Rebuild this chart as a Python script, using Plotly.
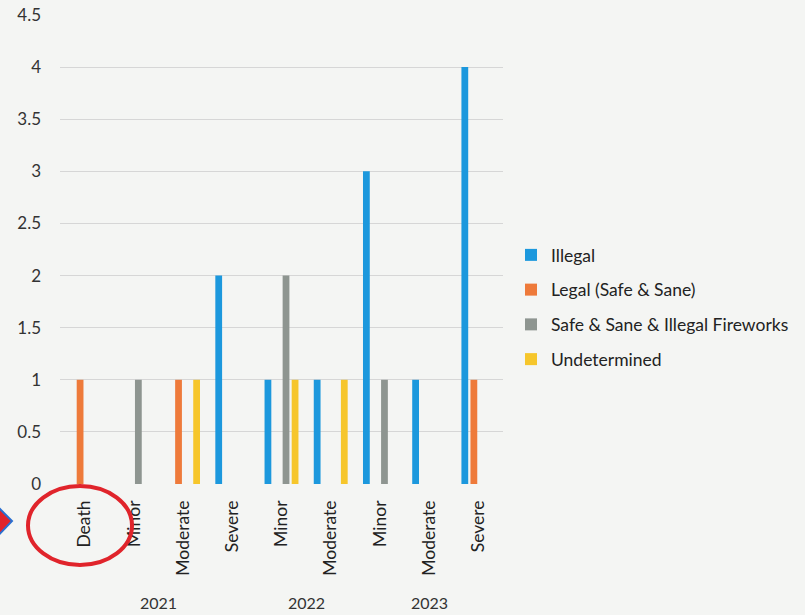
import plotly.graph_objects as go

categories = ["Death", "Minor", "Moderate", "Severe", "Minor", "Moderate", "Minor", "Moderate", "Severe"]
years = ["2021", "2022", "2023"]
year_groups = [[0, 1, 2, 3], [4, 5], [6, 7, 8]]

illegal = [0, 0, 0, 2, 1, 1, 3, 1, 4]
legal = [1, 0, 1, 0, 0, 0, 0, 0, 1]
safe_illegal = [0, 1, 0, 0, 2, 0, 1, 0, 0]
undetermined = [0, 0, 1, 0, 1, 1, 0, 0, 0]

series = [
    ("Illegal", illegal, "#1C98DD"),
    ("Legal (Safe & Sane)", legal, "#EE7A3A"),
    ("Safe & Sane & Illegal Fireworks", safe_illegal, "#8E9590"),
    ("Undetermined", undetermined, "#F6C62B"),
]

x_idx = list(range(len(categories)))
FONT = "Lato, 'Open Sans', sans-serif"

fig = go.Figure()
for i, (name, vals, col) in enumerate(series):
    fig.add_trace(go.Bar(x=x_idx, y=vals, name=name, marker_color=col,
                         marker_line_width=0, legendgroup=f"g{i}"))

W, H = 805, 615
L, R, T, B = 60, 302, 15, 131
pw, ph = W - L - R, H - T - B

def px(x):
    return (x - L) / pw

def py(y):
    return (H - B - y) / ph

for yr, grp in zip(years, year_groups):
    fig.add_annotation(x=sum(grp) / len(grp), y=py(602), xref="x", yref="paper",
                       text=yr, showarrow=False, font=dict(size=16, color="#333"),
                       yanchor="middle")

# hand-drawn marks on the printout
fig.add_shape(type="circle", xref="paper", yref="paper",
              x0=px(28), x1=px(132), y0=py(565), y1=py(486),
              line=dict(color="#E0242B", width=4))
fig.add_shape(type="path", xref="paper", yref="paper",
              path=f"M {px(-6)},{py(503)} L {px(12)},{py(521)} L {px(-6)},{py(540)} Z",
              fillcolor="#E0242B", line=dict(color="#2A6FD0", width=2))

fig.update_layout(
    width=W, height=H,
    margin=dict(l=L, r=R, t=T, b=B, autoexpand=False),
    paper_bgcolor="#F4F5F3", plot_bgcolor="#F4F5F3",
    font=dict(family=FONT, size=17, color="#333"),
    barmode="group", bargap=0.265, bargroupgap=0.25,
    showlegend=True,
    legend=dict(x=px(511), y=py(237), xanchor="left", yanchor="top",
                font=dict(size=17.5, color="#222"), tracegroupgap=9,
                bgcolor="rgba(0,0,0,0)", itemwidth=30),
    xaxis=dict(tickvals=x_idx, ticktext=categories, tickangle=-90,
               range=[-0.5, len(categories) - 0.5], showgrid=False,
               showline=False, ticks="", ticklabelstandoff=12, automargin=False,
               tickfont=dict(size=17.5, color="#222")),
    yaxis=dict(range=[0, 4.5], dtick=0.5, showgrid=True, gridcolor="#D6D6D6",
               gridwidth=1, zeroline=False, showline=False, ticks="", automargin=False,
               tickfont=dict(size=17, color="#333"), ticklabelstandoff=18),
)

fig.write_html("out.html", config={"displayModeBar": False},
               post_script="document.body.style.margin='0';document.body.style.background='#F4F5F3';")
